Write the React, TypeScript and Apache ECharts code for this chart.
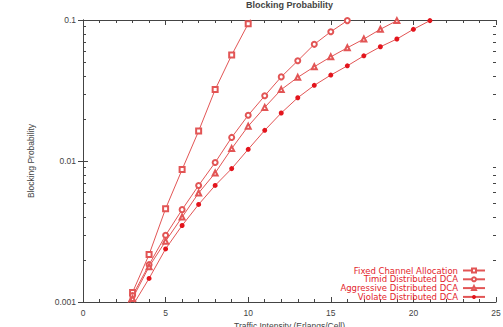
import React, { useEffect, useRef } from "react";
import * as echarts from "echarts";

const seriesNames = [
  "Fixed Channel Allocation",
  "Timid Distributed DCA",
  "Aggressive Distributed DCA",
  "Violate Distributed DCA",
];

const xFca = [2, 3, 4, 5, 6, 7, 8, 9, 10, 11];
const yFca = [0.00063, 0.00117, 0.00217, 0.00459, 0.0087, 0.0163, 0.0321, 0.0564, 0.094, 0.16];

const xTimid = [2, 3, 4, 5, 6, 7, 8, 9, 10, 11, 12, 13, 14, 15, 16];
const yTimid = [0.00068, 0.00111, 0.00184, 0.00297, 0.00452, 0.00671, 0.00976, 0.0147, 0.0211, 0.029, 0.0395, 0.0514, 0.0672, 0.0826, 0.099];

const xAggr = [2, 3, 4, 5, 6, 7, 8, 9, 10, 11, 12, 13, 14, 15, 16, 17, 18, 19];
const yAggr = [0.00063, 0.00106, 0.00178, 0.0027, 0.004, 0.00593, 0.00822, 0.01225, 0.01766, 0.024, 0.0321, 0.0392, 0.0466, 0.0548, 0.0635, 0.0733, 0.0859, 0.099];

const xViol = [2, 3, 4, 5, 6, 7, 8, 9, 10, 11, 12, 13, 14, 15, 16, 17, 18, 19, 20, 21];
const yViol = [0.00059, 0.00094, 0.00147, 0.00238, 0.00349, 0.00492, 0.00671, 0.00883, 0.0121, 0.0165, 0.0219, 0.0281, 0.0344, 0.0407, 0.0473, 0.0557, 0.0646, 0.0733, 0.0859, 0.099];

const yMinorTicks = [
  0.002, 0.003, 0.004, 0.005, 0.006, 0.007, 0.008, 0.009,
  0.02, 0.03, 0.04, 0.05, 0.06, 0.07, 0.08, 0.09,
];

const FONT = "Liberation Sans, Arial, sans-serif";
const LEGEND_FONT = "DejaVu Sans, Liberation Sans, sans-serif";
const AXIS = "#444";
const LINE = "#e25555";
const TEXT_RED = "#e3242b";

function pairs(xs: number[], ys: number[]) {
  return xs.map((x, i) => [x, ys[i]]);
}

export default function App() {
  const ref = useRef<HTMLDivElement>(null);
  useEffect(() => {
    if (!ref.current) return;
    const chart = echarts.init(ref.current, undefined, { renderer: "svg" });
    const xAxisBase = {
      type: "value" as const,
      min: 0,
      max: 25,
      interval: 5,
      axisLine: { show: true, lineStyle: { color: AXIS, width: 1 } },
      axisTick: { show: true, inside: true, length: 5, lineStyle: { color: AXIS } },
      minorTick: { show: true, splitNumber: 5, length: 3, lineStyle: { color: AXIS } },
      splitLine: { show: false },
    };
    const yAxisBase = {
      type: "log" as const,
      logBase: 10,
      min: 0.001,
      max: 0.1,
      axisLine: { show: true, lineStyle: { color: AXIS, width: 1 } },
      axisTick: { show: true, inside: true, length: 5, lineStyle: { color: AXIS } },
      minorTick: { show: false },
      splitLine: { show: false },
    };
    const lineBase = {
      type: "line" as const,
      xAxisIndex: 0,
      yAxisIndex: 0,
      lineStyle: { color: LINE, width: 1 },
      itemStyle: { color: LINE, borderColor: LINE, borderWidth: 1 },
      clip: true,
      z: 3,
    };
    chart.setOption({
      animation: false,
      textStyle: { fontFamily: FONT },
      title: {
        text: "Blocking Probability",
        left: 289.5,
        top: 0,
        padding: 0,
        textAlign: "center",
        textStyle: { fontSize: 9, fontWeight: "bold", color: "#444", fontFamily: FONT },
      },
      legend: {
        orient: "vertical",
        right: 17,
        top: 266,
        padding: 0,
        align: "right",
        itemWidth: 22,
        itemHeight: 5,
        itemGap: -0.2,
        textStyle: { color: TEXT_RED, fontSize: 8.5, lineHeight: 7, fontFamily: LEGEND_FONT, padding: [0, 0, 0, 0] },
        data: seriesNames,
      },
      grid: { left: 83, right: 7, top: 20, bottom: 25, outerBoundsMode: "none", containLabel: false },
      xAxis: [
        {
          ...xAxisBase,
          position: "bottom",
          name: "Traffic Intensity (Erlangs/Cell)",
          nameLocation: "middle",
          nameGap: 17,
          nameTextStyle: { fontSize: 8.5, color: "#444", fontFamily: FONT },
          axisLabel: { show: true, margin: 6, fontSize: 8.5, color: "#444", fontFamily: FONT },
        },
        {
          ...xAxisBase,
          position: "top",
          axisLabel: { show: false },
        },
      ],
      yAxis: [
        {
          ...yAxisBase,
          position: "left",
          name: "Blocking Probability",
          nameLocation: "middle",
          nameRotate: 90,
          nameGap: 48,
          nameTextStyle: { fontSize: 8.5, color: "#444", fontFamily: FONT },
          axisLabel: { show: true, margin: 7, fontSize: 8.5, color: "#444", fontFamily: FONT },
        },
        {
          ...yAxisBase,
          position: "right",
          axisLabel: { show: false },
        },
      ],
      series: [
        {
          ...lineBase,
          name: seriesNames[0],
          symbol: "emptyRect",
          symbolSize: 5,
          data: pairs(xFca, yFca),
        },
        {
          ...lineBase,
          name: seriesNames[1],
          symbol: "emptyCircle",
          symbolSize: 5,
          data: pairs(xTimid, yTimid),
        },
        {
          ...lineBase,
          name: seriesNames[2],
          symbol: "emptyTriangle",
          symbolSize: 5,
          data: pairs(xAggr, yAggr),
        },
        {
          ...lineBase,
          name: seriesNames[3],
          symbol: "circle",
          symbolSize: 5,
          itemStyle: { color: "#e3141c", borderColor: "#e3141c", borderWidth: 0 },
          data: pairs(xViol, yViol),
        },
        {
          type: "custom",
          silent: true,
          xAxisIndex: 0,
          yAxisIndex: 0,
          z: 5,
          clip: false,
          data: yMinorTicks.map((v) => [0, v]),
          renderItem: (params: any, api: any) => {
            const cs = params.coordSys;
            const p = api.coord([0, api.value(1)]);
            const y = Math.round(p[1]) + 0.5;
            return {
              type: "group",
              children: [
                {
                  type: "line",
                  shape: { x1: cs.x, y1: y, x2: cs.x + 3, y2: y },
                  style: { stroke: AXIS, lineWidth: 1 },
                },
                {
                  type: "line",
                  shape: { x1: cs.x + cs.width - 3, y1: y, x2: cs.x + cs.width, y2: y },
                  style: { stroke: AXIS, lineWidth: 1 },
                },
              ],
            };
          },
        },
      ],
    });
    return () => chart.dispose();
  }, []);
  return <div ref={ref} style={{ width: 503, height: 327, position: "absolute", left: 0, top: 0 }} />;
}
